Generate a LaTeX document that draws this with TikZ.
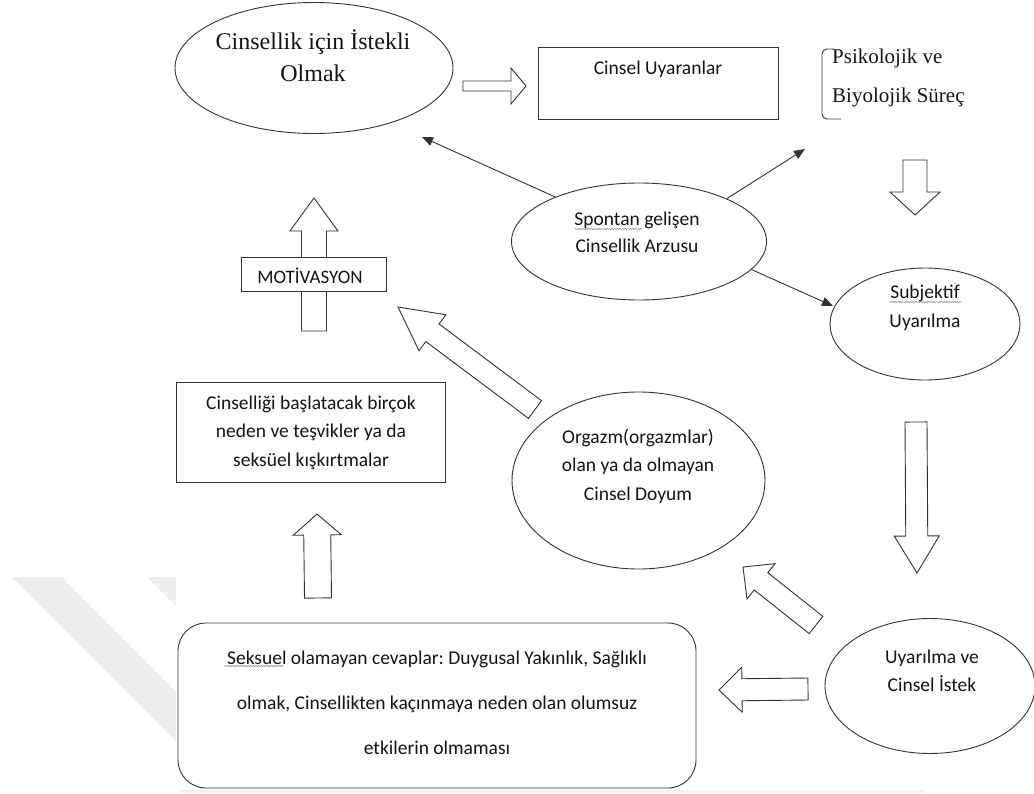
\documentclass[tikz,border=0pt]{standalone}
\usepackage{fontspec}
\setmainfont{Liberation Serif}
\newfontfamily\calib{Carlito}
\usetikzlibrary{shapes.geometric,arrows.meta,calc,decorations.pathmorphing}
\definecolor{ln}{RGB}{50,50,50}
\definecolor{wv}{RGB}{140,150,178}
\definecolor{wm}{RGB}{238,238,238}
\frenchspacing
% block (hollow) arrow: tail, tip, half shaft width, half head width, head length
\newcommand{\blockarr}[5]{%
  \coordinate (ba) at ($(#2)!#5!(#1)$);
  \draw[blk] ($(#1)!#3!90:(#2)$) -- ($(ba)!#3!90:(#2)$) -- ($(ba)!#4!90:(#2)$) -- (#2)
    -- ($(ba)!#4!-90:(#2)$) -- ($(ba)!#3!-90:(#2)$) -- ($(#1)!#3!-90:(#2)$) -- cycle;}
\begin{document}
\begin{tikzpicture}[x=1pt,y=-1pt,
  ell/.style={ellipse, draw=ln, line width=0.9pt, inner sep=0pt},
  boxn/.style={rectangle, draw=ln, line width=0.9pt, inner sep=0pt, fill=white},
  blk/.style={draw=ln, line width=0.9pt, fill=white, line join=miter},
  conn/.style={draw=ln, line width=0.9pt, -{Triangle[length=11pt,width=9pt]}},
  cal/.style={font=\calib\fontsize{19.5pt}{27pt}\selectfont, align=center, inner sep=0pt, anchor=base, text=black!92},
  tms/.style={align=center, inner sep=0pt, anchor=base, text=black!92},
  wavy/.style={draw=wv, line width=0.6pt, decorate, decoration={snake, amplitude=0.7pt, segment length=2.6pt}}]
\useasboundingbox (0,0) rectangle (1034,793);
% faint watermark
\fill[wm] (12,577) -- (62,577) -- (176,691) -- (176,741) -- cycle;
\fill[wm] (147,577) -- (176,577) -- (176,606) -- cycle;
\fill[wm!70] (180,790) rectangle (925,793);

% shapes
\node[ell, minimum width=278pt, minimum height=131pt] (e1) at (314,68) {};
\node[boxn, minimum width=240pt, minimum height=72pt] (cu) at (658,83) {};
\node[ell, minimum width=255pt, minimum height=117pt] (sp) at (639,241.5) {};
\node[ell, minimum width=190pt, minimum height=112pt] (subj) at (925,324) {};
\node[ell, minimum width=210pt, minimum height=135pt] (uy) at (930,686) {};
\node[ell, minimum width=253pt, minimum height=177pt] (org) at (638.5,480.5) {};
\node[boxn, minimum width=269pt, minimum height=100pt] (cb) at (310.5,432) {};
\node[boxn, rounded corners=28pt, minimum width=518pt, minimum height=165pt] (bb) at (437,705.5) {};

% bracket
\draw[ln, line width=0.9pt, rounded corners=5pt] (834,49) -- (822,49) -- (822,119) -- (841,119);

% block arrows
\coordinate (a1t) at (463,86);  \coordinate (a1h) at (526,86);
\coordinate (a2t) at (915,160); \coordinate (a2h) at (915,215);
\coordinate (a3t) at (314,331); \coordinate (a3h) at (314,198);
\coordinate (a4t) at (535,409.5); \coordinate (a4h) at (398,307);
\coordinate (a5t) at (916,422); \coordinate (a5h) at (917,573);
\coordinate (a6t) at (816,625); \coordinate (a6h) at (743,567);
\coordinate (a7t) at (808,689); \coordinate (a7h) at (719,690);
\coordinate (a8t) at (318,598); \coordinate (a8h) at (317,514);
\blockarr{a1t}{a1h}{5pt}{18pt}{15pt}
\blockarr{a2t}{a2h}{12pt}{25pt}{23pt}
\blockarr{a3t}{a3h}{12.5pt}{24pt}{33pt}
\blockarr{a4t}{a4h}{11pt}{22.5pt}{43pt}
\blockarr{a5t}{a5h}{11pt}{22.5pt}{37pt}
\blockarr{a6t}{a6h}{11pt}{22.5pt}{23pt}
\blockarr{a7t}{a7h}{11pt}{22.5pt}{23pt}
\blockarr{a8t}{a8h}{13.5pt}{24pt}{21pt}
\node[boxn, minimum width=145pt, minimum height=34pt] (mot) at (313.5,274) {};

% thin arrows from Spontan
\coordinate (pUL) at (422,137);
\coordinate (pUR) at (805,149);
\coordinate (pDR) at (833,306);
\draw[conn] (sp.152) -- (pUL);
\draw[conn] (sp.26) -- (pUR);
\draw[conn] (sp.-14) -- (pDR);

% texts
\node[tms, font=\fontsize{24pt}{32pt}\selectfont] (t1) at (313,81) {Cinsellik için İstekli\\Olmak};
\node[cal] (tcu) at (658,74) {Cinsel Uyaranlar};
\node[tms, anchor=base west, align=left, font=\fontsize{21pt}{39pt}\selectfont] (tps) at (832,102) {Psikolojik ve\\Biyolojik Süreç};
\node[cal] (tsp) at (637,252) {Spontan gelişen\\Cinsellik Arzusu};
\node[cal, font=\calib\fontsize{19pt}{27pt}\selectfont] (tmot) at (310,283) {MOTİVASYON};
\node[cal, font=\calib\fontsize{19.5pt}{29pt}\selectfont] (tsubj) at (925,327) {Subjektif\\Uyarılma};
\node[cal, font=\calib\fontsize{19.5pt}{28.5pt}\selectfont] (tcb) at (311,466) {Cinselliği başlatacak birçok\\neden ve teşvikler ya da\\seksüel kışkırtmalar};
\node[cal, font=\calib\fontsize{19.5pt}{28.5pt}\selectfont] (torg) at (638,500) {Orgazm(orgazmlar)\\olan ya da olmayan\\Cinsel Doyum};
\node[cal, font=\calib\fontsize{19.5pt}{28pt}\selectfont] (tuy) at (932,691) {Uyarılma ve\\Cinsel İstek};
\node[cal, font=\calib\fontsize{19.5pt}{45pt}\selectfont] (tbb) at (437,754) {Seksuel olamayan cevaplar: Duygusal Yakınlık, Sağlıklı\\olmak, Cinsellikten kaçınmaya neden olan olumsuz\\etkilerin olmaması};

% spell-check wavy underlines
\draw[wavy] (575,229) -- (642,229);
\draw[wavy] (889,302) -- (962,302);
\draw[wavy] (224,666) -- (284,666);
\end{tikzpicture}
\end{document}
